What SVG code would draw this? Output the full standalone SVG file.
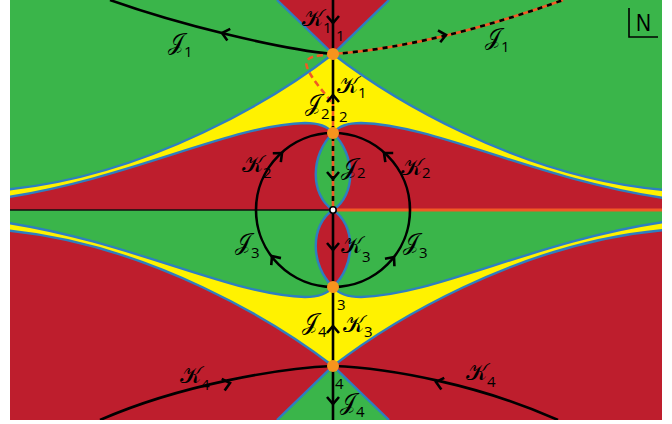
<svg xmlns="http://www.w3.org/2000/svg" xmlns:xlink="http://www.w3.org/1999/xlink" width="672" height="424" viewBox="0 0 672 424">
<defs>
<style>
.g{fill:#3ab54a}.r{fill:#be1e2d}.y{fill:#fff200}
.b{fill:none;stroke:#2e7fc0;stroke-width:2.4}
.k{fill:none;stroke:#000;stroke-width:2.6}
.o{fill:none;stroke:#f15a24;stroke-width:2.6}
.kd{fill:none;stroke:#000;stroke-width:2.6;stroke-dasharray:5 5}
.od{fill:none;stroke:#f15a24;stroke-width:2.6;stroke-dasharray:6 4}
.node{fill:#f7941d}
.lab{font-family:"DejaVu Sans","Noto Sans",sans-serif;font-size:23px;fill:#000}
.sub{font-family:"Open Sans","Liberation Sans",sans-serif;font-size:15px}
.num{font-family:"Open Sans","Liberation Sans",sans-serif;font-size:15px;fill:#000}
</style>
<clipPath id="plot"><rect x="10" y="0" width="652" height="420"/></clipPath>
<path id="chev" d="M-7,-6 L0,0 L-7,6" fill="none" stroke="#000" stroke-width="2.6"/>
</defs>
<rect width="672" height="424" fill="#fff"/>
<g id="regions" clip-path="url(#plot)">
<rect class="g" x="0" y="0" width="672" height="210"/>
<rect class="r" x="0" y="210" width="672" height="214"/>
<path class="r" d="M2,198 C130,179 230,125 305,123 Q325,123 333,133 Q341,123 361,123 C436,125 536,179 664,198 L664,210 L2,210 Z"/>
<path class="y" d="M2,190 C150,177 280,95 333,54 C386,95 516,177 664,190 L664,198 C536,179 436,125 361,123 Q341,123 333,133 Q325,123 305,123 C230,125 130,179 2,198 Z"/>
<path class="r" d="M277,0 L333,54 L389,0 Z"/>
<path class="g" d="M333,133 C310,155 310,195 333,210 C356,195 356,155 333,133 Z"/>
<path class="g" d="M2,222 C130,241 230,295 305,297 Q325,297 333,287 Q341,297 361,297 C436,295 536,241 664,222 L664,210 L2,210 Z"/>
<path class="y" d="M2,230 C150,243 280,325 333,366 C386,325 516,243 664,230 L664,222 C536,241 436,295 361,297 Q341,297 333,287 Q325,297 305,297 C230,295 130,241 2,222 Z"/>
<path class="g" d="M277,420 L333,366 L389,420 Z"/>
<path class="r" d="M333,210 C310,225 310,265 333,287 C356,265 356,225 333,210 Z"/>
<g id="boundaries">
<path class="b" d="M2,190 C150,177 280,95 333,54 C386,95 516,177 664,190"/>
<path class="b" d="M2,198 C130,179 230,125 305,123 Q325,123 333,133 Q341,123 361,123 C436,125 536,179 664,198"/>
<path class="b" d="M277,0 L333,54 L389,0"/>
<path class="b" d="M333,133 C310,155 310,195 333,210 C356,195 356,155 333,133 Z"/>
<path class="b" d="M2,230 C150,243 280,325 333,366 C386,325 516,243 664,230"/>
<path class="b" d="M2,222 C130,241 230,295 305,297 Q325,297 333,287 Q341,297 361,297 C436,295 536,241 664,222"/>
<path class="b" d="M277,420 L333,366 L389,420"/>
<path class="b" d="M333,210 C310,225 310,265 333,287 C356,265 356,225 333,210 Z"/>
</g>
</g>
<g id="connectors" clip-path="url(#plot)">
<line x1="10" y1="210" x2="333" y2="210" stroke="#111" stroke-width="1.6"/>
<line x1="333" y1="210" x2="662" y2="210" stroke="#f15a24" stroke-width="3"/>
<circle class="k" cx="333" cy="210" r="77"/>
<line class="k" x1="333" y1="0" x2="333" y2="104"/>
<line class="k" x1="333" y1="210" x2="333" y2="420"/>
<line class="o" x1="333" y1="104" x2="333" y2="210"/>
<line class="kd" x1="333" y1="106" x2="333" y2="210"/>
<path class="k" d="M333,54 C280,49 180,25 110,0"/>
<path class="o" d="M333,54 C400,49 480,30 563,0"/>
<path class="kd" d="M333,54 C400,49 480,30 563,0"/>
<path class="od" d="M333,55 C318,55 303,56 307,67 C311,79 325,93 333,104"/>
<path class="k" d="M333,366 C280,368 180,385 100,420"/>
<path class="k" d="M333,366 C390,368 480,385 558,420"/>
<use href="#chev" transform="translate(333,23) rotate(90)"/>
<use href="#chev" transform="translate(222,33) rotate(194)"/>
<use href="#chev" transform="translate(446,35) rotate(-11)"/>
<use href="#chev" transform="translate(333,95) rotate(-90)"/>
<use href="#chev" transform="translate(333,179) rotate(90)"/>
<use href="#chev" transform="translate(282,153) rotate(-42)"/>
<use href="#chev" transform="translate(384,153) rotate(-139)"/>
<use href="#chev" transform="translate(272,256) rotate(-126)"/>
<use href="#chev" transform="translate(394,257) rotate(-52)"/>
<use href="#chev" transform="translate(333,250) rotate(90)"/>
<use href="#chev" transform="translate(333,326) rotate(-90)"/>
<use href="#chev" transform="translate(333,404) rotate(90)"/>
<use href="#chev" transform="translate(230,383) rotate(-14)"/>
<use href="#chev" transform="translate(436,382) rotate(194)"/>
</g>
<g id="n1"><circle class="node" cx="333" cy="54" r="6"/><text class="num" x="336" y="41">1</text></g>
<g id="n2"><circle class="node" cx="333" cy="133" r="6"/><text class="num" x="339" y="122">2</text></g>
<g id="n3"><circle class="node" cx="333" cy="287" r="6"/><text class="num" x="337" y="310">3</text></g>
<g id="n4"><circle class="node" cx="333" cy="366" r="6"/><text class="num" x="335" y="389">4</text></g>
<g id="origin"><circle cx="333" cy="210" r="3.2" fill="#fff" stroke="#000" stroke-width="1.6"/></g>
<g id="labels">
<text class="lab" x="302" y="26">𝒦<tspan class="sub" dy="7">1</tspan></text>
<text class="lab" x="168" y="50">𝒥<tspan class="sub" dy="7">1</tspan></text>
<text class="lab" x="485" y="45">𝒥<tspan class="sub" dy="7">1</tspan></text>
<text class="lab" x="337" y="93">𝒦<tspan class="sub" dy="5">1</tspan></text>
<text class="lab" x="305" y="111">𝒥<tspan class="sub" dy="8">2</tspan></text>
<text class="lab" x="242" y="172">𝒦<tspan class="sub" dy="6">2</tspan></text>
<text class="lab" x="341" y="175">𝒥<tspan class="sub" dy="3">2</tspan></text>
<text class="lab" x="401" y="175">𝒦<tspan class="sub" dy="3">2</tspan></text>
<text class="lab" x="235" y="250">𝒥<tspan class="sub" dy="8">3</tspan></text>
<text class="lab" x="341" y="253">𝒦<tspan class="sub" dy="9">3</tspan></text>
<text class="lab" x="403" y="250">𝒥<tspan class="sub" dy="8">3</tspan></text>
<text class="lab" x="302" y="330">𝒥<tspan class="sub" dy="7">4</tspan></text>
<text class="lab" x="343" y="332">𝒦<tspan class="sub" dy="5">3</tspan></text>
<text class="lab" x="340" y="410">𝒥<tspan class="sub" dy="7">4</tspan></text>
<text class="lab" x="180" y="383">𝒦<tspan class="sub" dy="7">4</tspan></text>
<text class="lab" x="466" y="380">𝒦<tspan class="sub" dy="7">4</tspan></text>
</g>
<g id="compass">
<polyline points="629,8 629,37 658,37" fill="none" stroke="#000" stroke-width="1.6"/>
<text x="636" y="31" font-family="Liberation Sans, sans-serif" font-size="23" textLength="15" lengthAdjust="spacingAndGlyphs">N</text>
</g>
</svg>
